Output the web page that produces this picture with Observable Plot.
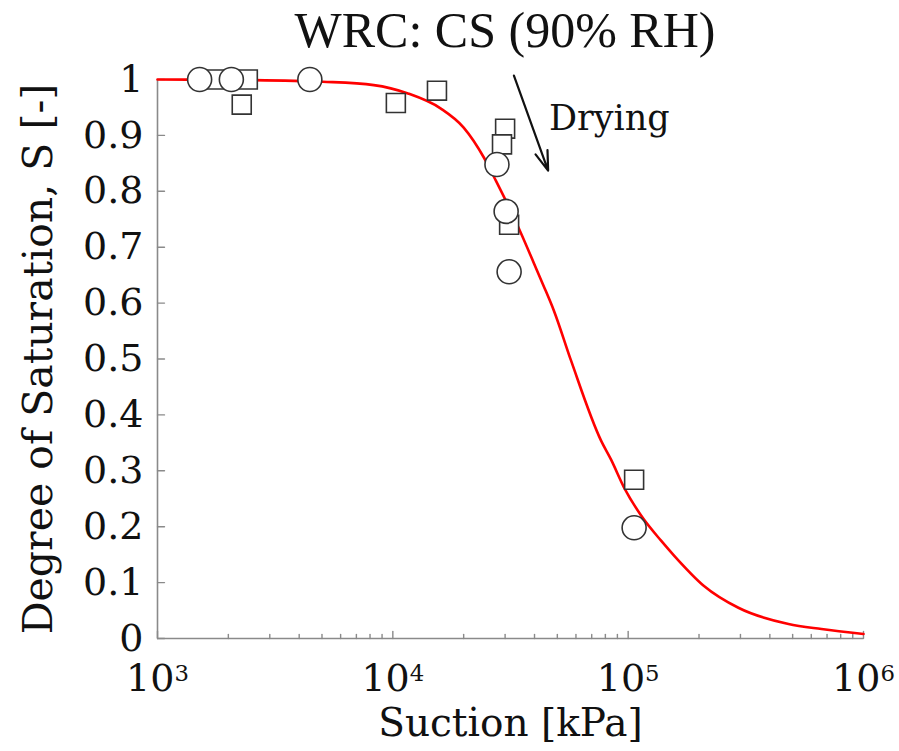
<!DOCTYPE html>
<html><head><meta charset="utf-8">
<script src="https://cdn.jsdelivr.net/npm/d3@7"></script>
<script src="https://cdn.jsdelivr.net/npm/@observablehq/plot@0.6"></script>
<style>
body{margin:0;background:#fff;}
#title{height:60px;line-height:60px;font-family:"Liberation Serif",serif;font-size:50px;color:#111;text-align:center;padding-left:111px;width:788px;white-space:nowrap;}
</style></head><body>
<div id="title">WRC: CS (90% RH)</div>
<div id="chart"></div>
<script>
// Measured points (circles)
const circleSuction = [1510, 2060, 4440, 27700, 30300, 31200, 106000];
const circleS = [1.0, 1.0, 1.0, 0.848, 0.764, 0.656, 0.198];
// Measured points (squares)
const squareSuction = [1750, 2420, 2280, 10300, 15400, 30000, 29100, 31200, 106000];
const squareS = [1.0, 1.0, 0.955, 0.958, 0.980, 0.912, 0.884, 0.740, 0.284];
// Fitted curve (red)
const curveSuction = [1000, 2490, 5040, 8300, 11600, 16000, 20000, 24400, 27400, 32700, 39800, 43500, 48400, 57200, 76700, 84600, 96100, 113500, 138000, 157000, 210000, 294000, 480000, 663000, 1000000];
const curveS = [1.0, 0.999, 0.996, 0.990, 0.975, 0.948, 0.914, 0.860, 0.819, 0.753, 0.671, 0.633, 0.586, 0.497, 0.354, 0.320, 0.270, 0.220, 0.175, 0.148, 0.094, 0.055, 0.026, 0.017, 0.008];
// Ticks
const xMajorTicks = [1e3, 1e4, 1e5, 1e6];
const xMinorTicks = [2e3,3e3,4e3,5e3,6e3,7e3,8e3,9e3,2e4,3e4,4e4,5e4,6e4,7e4,8e4,9e4,2e5,3e5,4e5,5e5,6e5,7e5,8e5,9e5];
const yTicks = [0, 0.1, 0.2, 0.3, 0.4, 0.5, 0.6, 0.7, 0.8, 0.9, 1];
// Annotation
const arrowFrom = [32700, 1.007];
const arrowTo = [45700, 0.837];
const labelAt = [46100, 0.929];
const labelText = "Drying";

const circles = circleSuction.map((x, i) => ({x, y: circleS[i]}));
const squares = squareSuction.map((x, i) => ({x, y: squareS[i]}));
const curve = curveSuction.map((x, i) => ({x, y: curveS[i]}));

const serif = "DejaVu Serif";
const tickShape = {draw(context, l) { context.moveTo(0, 0); context.lineTo(0, -l); }};
const axisColor = "#8a8a8a";

const svg = Plot.plot({
  width: 899, height: 691,
  marginLeft: 157, marginRight: 36, marginTop: 19, marginBottom: 113,
  x: {type: "log", domain: [1e3, 1e6]},
  y: {domain: [0, 1]},
  style: {background: "#fff", overflow: "visible", color: "#111"},
  marks: [
    Plot.ruleY([0], {stroke: axisColor, strokeWidth: 1.6}),
    Plot.ruleX([1e3], {y1: 0, y2: 1, stroke: axisColor, strokeWidth: 1.6}),
    Plot.vector(xMajorTicks, {x: d => d, y: 0, length: 7, anchor: "start", shape: tickShape, stroke: axisColor, strokeWidth: 1.4}),
    Plot.vector(xMinorTicks, {x: d => d, y: 0, length: 4, anchor: "start", shape: tickShape, stroke: axisColor, strokeWidth: 1.4}),
    Plot.vector(yTicks, {x: 1e3, y: d => d, length: 7, rotate: 90, anchor: "start", shape: tickShape, stroke: axisColor, strokeWidth: 1.4}),
    Plot.axisX({ticks: xMajorTicks, tickSize: 0, tickPadding: 26, fontSize: 38, fontFamily: serif, tickFormat: d => "10^" + Math.round(Math.log10(d)), label: null}),
    Plot.axisX({ticks: [], tickSize: 0, label: "Suction [kPa]", labelAnchor: "center", labelArrow: "none", labelOffset: 97, fontSize: 39, fontFamily: serif}),
    Plot.axisY({ticks: yTicks, tickSize: 0, tickPadding: 14, fontSize: 38, fontFamily: serif, tickFormat: d => d === 0 ? "0" : d === 1 ? "1" : d.toFixed(1), label: null}),
    Plot.axisY({ticks: [], tickSize: 0, label: "Degree of Saturation, S [-]", labelAnchor: "center", labelArrow: "none", labelOffset: 135, fontSize: 41, fontFamily: serif}),
    Plot.line(curve, {x: "x", y: "y", stroke: "#ff0000", strokeWidth: 2.6, curve: "monotone-x"}),
    Plot.dot(squares, {x: "x", y: "y", symbol: "square", r: 10.7, fill: "white", stroke: "#333", strokeWidth: 1.6}),
    Plot.dot(circles, {x: "x", y: "y", r: 12, fill: "white", stroke: "#333", strokeWidth: 1.6}),
    Plot.arrow([{x1: arrowFrom[0], y1: arrowFrom[1], x2: arrowTo[0], y2: arrowTo[1]}], {x1: "x1", y1: "y1", x2: "x2", y2: "y2", stroke: "#111", strokeWidth: 2.2, headLength: 14, headAngle: 36}),
    Plot.text([{x: labelAt[0], y: labelAt[1], t: labelText}], {x: "x", y: "y", text: "t", textAnchor: "start", lineAnchor: "middle", fontSize: 35, fontFamily: serif, fill: "#111"})
  ]
});

d3.select(svg).attr("font-family", serif);
d3.select(svg).selectAll('g[aria-label="x-axis tick label"] text').each(function() {
  const parts = this.textContent.split("^");
  if (parts.length < 2) return;
  this.textContent = "";
  d3.select(this).append("tspan").text(parts[0]);
  d3.select(this).append("tspan").attr("dy", "-0.45em").attr("font-size", "0.6em").text(parts[1]);
});

document.getElementById("chart").appendChild(svg);
</script>
</body></html>
